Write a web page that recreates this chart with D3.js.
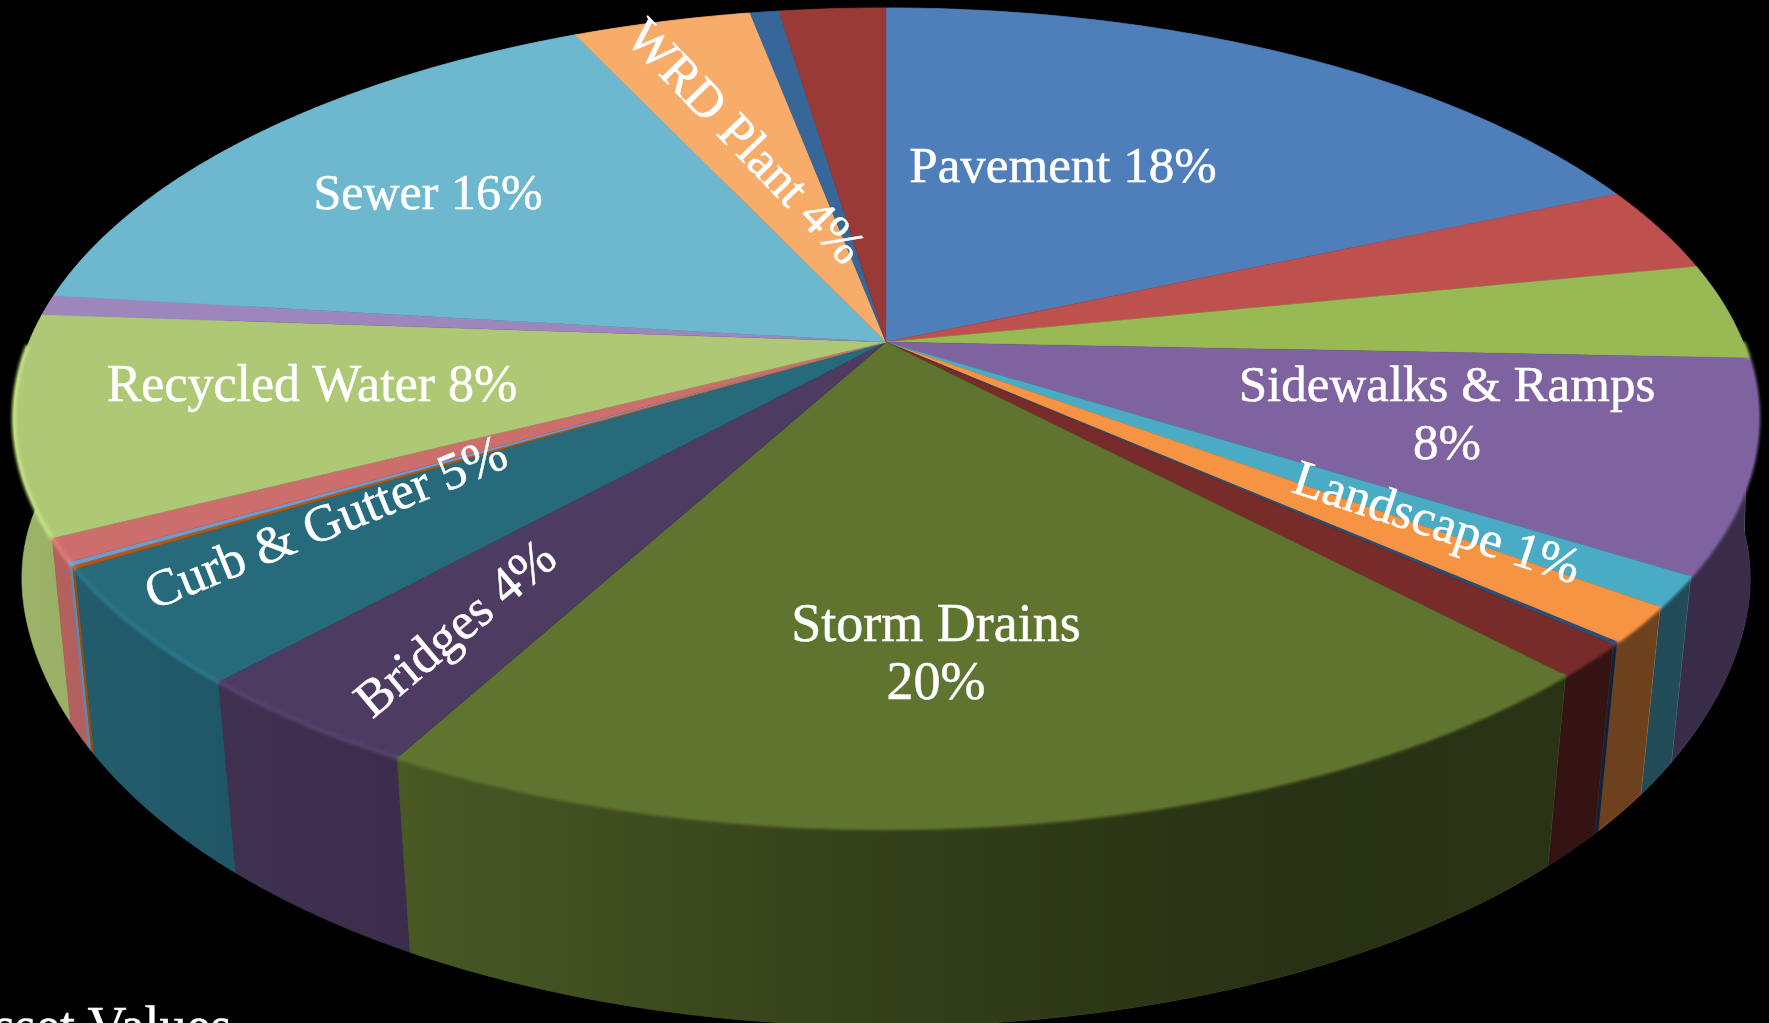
<!DOCTYPE html>
<html>
<head>
<meta charset="utf-8">
<script src="https://cdn.jsdelivr.net/npm/d3@7"></script>
<style>
  html, body { margin: 0; background: #000; overflow: hidden; }
  svg { display: block; }
  text { font-family: "Liberation Serif", serif; fill: #fff; stroke: #fff; stroke-width: 0.5; }
</style>
</head>
<body>
<svg width="1769" height="1023"></svg>
<script>
// slices, clockwise from 12 o'clock. Unnamed ones have no label in the picture
const categories = ['Pavement', '', '', 'Sidewalks & Ramps', 'Landscape', '', '', '', 'Storm Drains',
  'Bridges', 'Curb & Gutter', '', '', '', 'Recycled Water', '', 'Sewer', 'WRD Plant', '', ''];
const shares = [18.4, 3.4, 3.8, 8.3, 1.2, 1.4, 0.12, 1.3, 19.92, 3.8, 4.6, 0.12, 0.15, 0.9, 8.6, 0.8, 16.1, 3.95, 0.64, 2.36];
const colors = ['#4f7fbb', '#be514e', '#98b954', '#7f63a1', '#4aabc5', '#f79443', '#2c4d75', '#772c2a', '#5f752f',
  '#4d3b62', '#276a7c', '#b65708', '#729aca', '#cc6e6b', '#afc875', '#9d86bb', '#6db8cf', '#f8ac6a', '#376799', '#9a3a36'];

// label text as printed, with where it sits on the page
const labels = [
  { lines: ['Pavement 18%'], x: 1063, y: 182, rot: 0, size: 51 },
  { lines: ['Sidewalks & Ramps', '8%'], x: 1447, y: 401, rot: 0, size: 51 },
  { lines: ['Landscape 1%'], x: 1432, y: 538, rot: 18, size: 51 },
  { lines: ['Storm Drains', '20%'], x: 936, y: 641, rot: 0, size: 54 },
  { lines: ['Bridges 4%'], x: 466, y: 641, rot: -40, size: 52 },
  { lines: ['Curb & Gutter 5%'], x: 332, y: 538, rot: -22, size: 52 },
  { lines: ['Recycled Water 8%'], x: 312, y: 401, rot: 0, size: 52 },
  { lines: ['Sewer 16%'], x: 428, y: 209, rot: 0, size: 50 },
  { lines: ['WRD Plant 4%'], x: 734, y: 153, rot: 46, size: 51 }
];

const svg = d3.select('svg');

// perspective of the disc: u,v on the unit circle, h = 0 top face, 1 bottom of the wall
const cx = 886, cy = 342, a = 857, b = 396, k = 0.1854, m = 0.023, n = 177;
function project(theta, r, h) {
  const u = r * Math.sin(theta), v = -r * Math.cos(theta);
  const w = 1 - k * v + m * h;
  return [cx + a * u / w, cy + (b * v + n * h) / w];
}

// the wall's lower edge bulges out where the disc is widest
function bottomRadius(theta) {
  const off = Math.acos(Math.abs(Math.cos(theta - Math.PI / 2)));
  return 1 + 0.018 * Math.exp(-(off * off) / (2 * 0.23 * 0.23));
}

const arcs = d3.pie().sort(null).value(d => d)(shares);
const line = d3.line();

function arcAngles(d) {
  const steps = Math.max(2, Math.ceil((d.endAngle - d.startAngle) / 0.01));
  return d3.range(steps + 1).map(i => d.startAngle + (d.endAngle - d.startAngle) * i / steps);
}
const midAngle = d => (d.startAngle + d.endAngle) / 2;

// wall shading goes from nearly lit on the left to dark on the right
const defs = svg.append('defs');
const shade = defs.append('linearGradient').attr('id', 'shade')
  .attr('gradientUnits', 'userSpaceOnUse').attr('x1', 0).attr('x2', 1769).attr('y1', 0).attr('y2', 0);
[[0, 0.1], [400, 0.24], [900, 0.47], [1300, 0.58], [1769, 0.55]].forEach(([x, o]) => {
  shade.append('stop').attr('offset', x / 1769).attr('stop-color', '#000').attr('stop-opacity', o);
});
defs.append('filter').attr('id', 'soft')
  .attr('x', '-10%').attr('y', '-10%').attr('width', '120%').attr('height', '120%')
  .append('feGaussianBlur').attr('stdDeviation', 1.6);

// walls, far ones first
const order = d3.range(arcs.length).sort((i, j) =>
  d3.ascending(-Math.cos(midAngle(arcs[i])), -Math.cos(midAngle(arcs[j]))));
const walls = svg.append('g');
order.forEach(i => {
  const ang = arcAngles(arcs[i]);
  const pts = ang.map(t => project(t, 1, 0))
    .concat(ang.slice().reverse().map(t => project(t, bottomRadius(t), 1)));
  const path = line(pts) + 'Z';
  walls.append('path').attr('d', path).attr('fill', colors[i]).attr('stroke', colors[i]).attr('stroke-width', 0.5);
  walls.append('path').attr('d', path).attr('fill', 'url(#shade)');
});

// top face
const tops = svg.append('g');
arcs.forEach((d, i) => {
  const pts = [[cx, cy]].concat(arcAngles(d).map(t => project(t, 1, 0)));
  tops.append('path').attr('d', line(pts) + 'Z').attr('fill', colors[i]).attr('stroke', colors[i]).attr('stroke-width', 0.4);
});

// soft bevel along the near rim, lighter on the left
const rim = svg.append('g').attr('filter', 'url(#soft)').attr('fill', 'none');
arcs.forEach((d, i) => {
  const ang = arcAngles(d).filter(t => -Math.cos(t) > 0);
  if (ang.length < 2) return;
  const left = Math.sin(midAngle(d)) < -0.3;
  rim.append('path').attr('d', line(ang.map(t => project(t, 1, 0))))
    .attr('stroke', left ? d3.color(colors[i]).brighter(0.35) : colors[i])
    .attr('stroke-width', 4);
});

// labels
labels.forEach(l => {
  const t = svg.append('text')
    .attr('transform', `translate(${l.x},${l.y}) rotate(${l.rot})`)
    .attr('text-anchor', 'middle').attr('font-size', l.size);
  l.lines.forEach((s, i) => t.append('tspan').attr('x', 0).attr('dy', i ? 58 : 0).text(s));
});

// title running off the bottom left corner of the slide
svg.append('text').attr('x', -45).attr('y', 1044).attr('font-size', 54).text('Asset Values');
</script>
</body>
</html>
